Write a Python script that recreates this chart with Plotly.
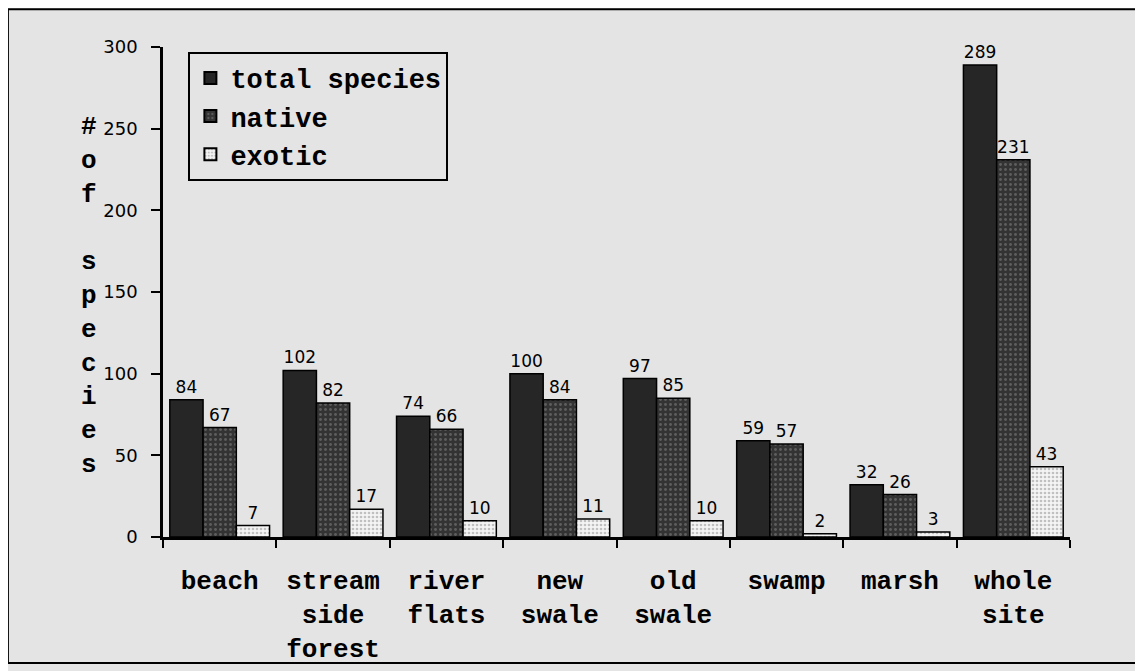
import plotly.graph_objects as go

# Data
categories = ["beach", "stream side forest", "river flats", "new swale", "old swale", "swamp", "marsh", "whole site"]
tick_labels = ["beach", "stream<br>side<br>forest", "river<br>flats", "new<br>swale", "old<br>swale", "swamp", "marsh", "whole<br>site"]
total_species = [84, 102, 74, 100, 97, 59, 32, 289]
native = [67, 82, 66, 84, 85, 57, 26, 231]
exotic = [7, 17, 10, 11, 10, 2, 3, 43]
y_ticks = [0, 50, 100, 150, 200, 250, 300]

bg = "#e4e4e4"
mono = "Liberation Mono"
sans = "DejaVu Sans"

fig = go.Figure()

series = [
    ("total species", total_species, dict(color="#262626", pattern=dict(shape=""))),
    ("native", native, dict(color="#333333", pattern=dict(shape=".", bgcolor="#333333", fgcolor="#8a8a8a", size=5, solidity=0.25))),
    ("exotic", exotic, dict(color="#f4f4f4", pattern=dict(shape=".", bgcolor="#f4f4f4", fgcolor="#8c8c8c", size=4, solidity=0.35))),
]
for name, vals, marker in series:
    marker["line"] = dict(color="black", width=1.5)
    fig.add_trace(go.Bar(
        name=name, x=categories, y=vals, marker=marker,
        text=vals, textposition="outside", cliponaxis=False,
        textfont=dict(family=sans, size=17, color="black"),
    ))

# vertical "# of species" title, one letter per line
title = "<br>".join(list("#of") + ["\u00a0"] + list("species"))
fig.add_annotation(
    text=title, xref="paper", yref="paper", x=-0.082, y=0.491,
    showarrow=False, xanchor="center", yanchor="middle",
    font=dict(family=mono, size=26, color="black", weight="bold"),
)

# outer frame around the figure
fig.add_shape(type="rect", xref="paper", yref="paper", x0=-0.171, x1=1.073, y0=-0.257, y1=1.077,
              line=dict(color="black", width=2))

n = len(categories)
fig.update_layout(
    width=1135, height=663,
    margin=dict(l=155, r=73, t=39, b=134),
    paper_bgcolor=bg, plot_bgcolor=bg,
    barmode="group", bargap=0.12, bargroupgap=0,
    showlegend=True,
    legend=dict(
        x=0.028, y=0.99, xanchor="left", yanchor="top",
        bgcolor=bg, bordercolor="black", borderwidth=2,
        font=dict(family=mono, size=27, color="black", weight="bold"),
        itemsizing="constant",
    ),
    xaxis=dict(
        type="category", tickvals=categories, ticktext=tick_labels, automargin=False,
        showline=True, linecolor="black", linewidth=2.5,
        ticks="outside", ticklen=8, tickwidth=2, tickcolor="black", tickson="boundaries",
        ticklabelstandoff=18,
        tickfont=dict(family=mono, size=26, color="black", weight="bold"),
        showgrid=False, zeroline=False,
    ),
    xaxis2=dict(
        overlaying="x", anchor="y", side="bottom", range=[-0.5, n - 0.5],
        tickvals=[i - 0.5 for i in range(n + 1)], showticklabels=False,
        ticks="inside", ticklen=8, tickwidth=2, tickcolor="black",
        showline=False, showgrid=False, zeroline=False,
    ),
    yaxis=dict(
        range=[0, 300], tickvals=y_ticks, automargin=False,
        showline=True, linecolor="black", linewidth=2.5,
        ticks="outside", ticklen=9, tickwidth=2, tickcolor="black",
        ticklabelstandoff=10,
        tickfont=dict(family=sans, size=18, color="black"),
        showgrid=False, zeroline=False,
    ),
    yaxis2=dict(
        overlaying="y", anchor="x", side="left", range=[0, 300], tickvals=y_ticks,
        showticklabels=False, ticks="inside", ticklen=9, tickwidth=2, tickcolor="black",
        showline=False, showgrid=False, zeroline=False,
    ),
)

fig.write_html("out.html")
